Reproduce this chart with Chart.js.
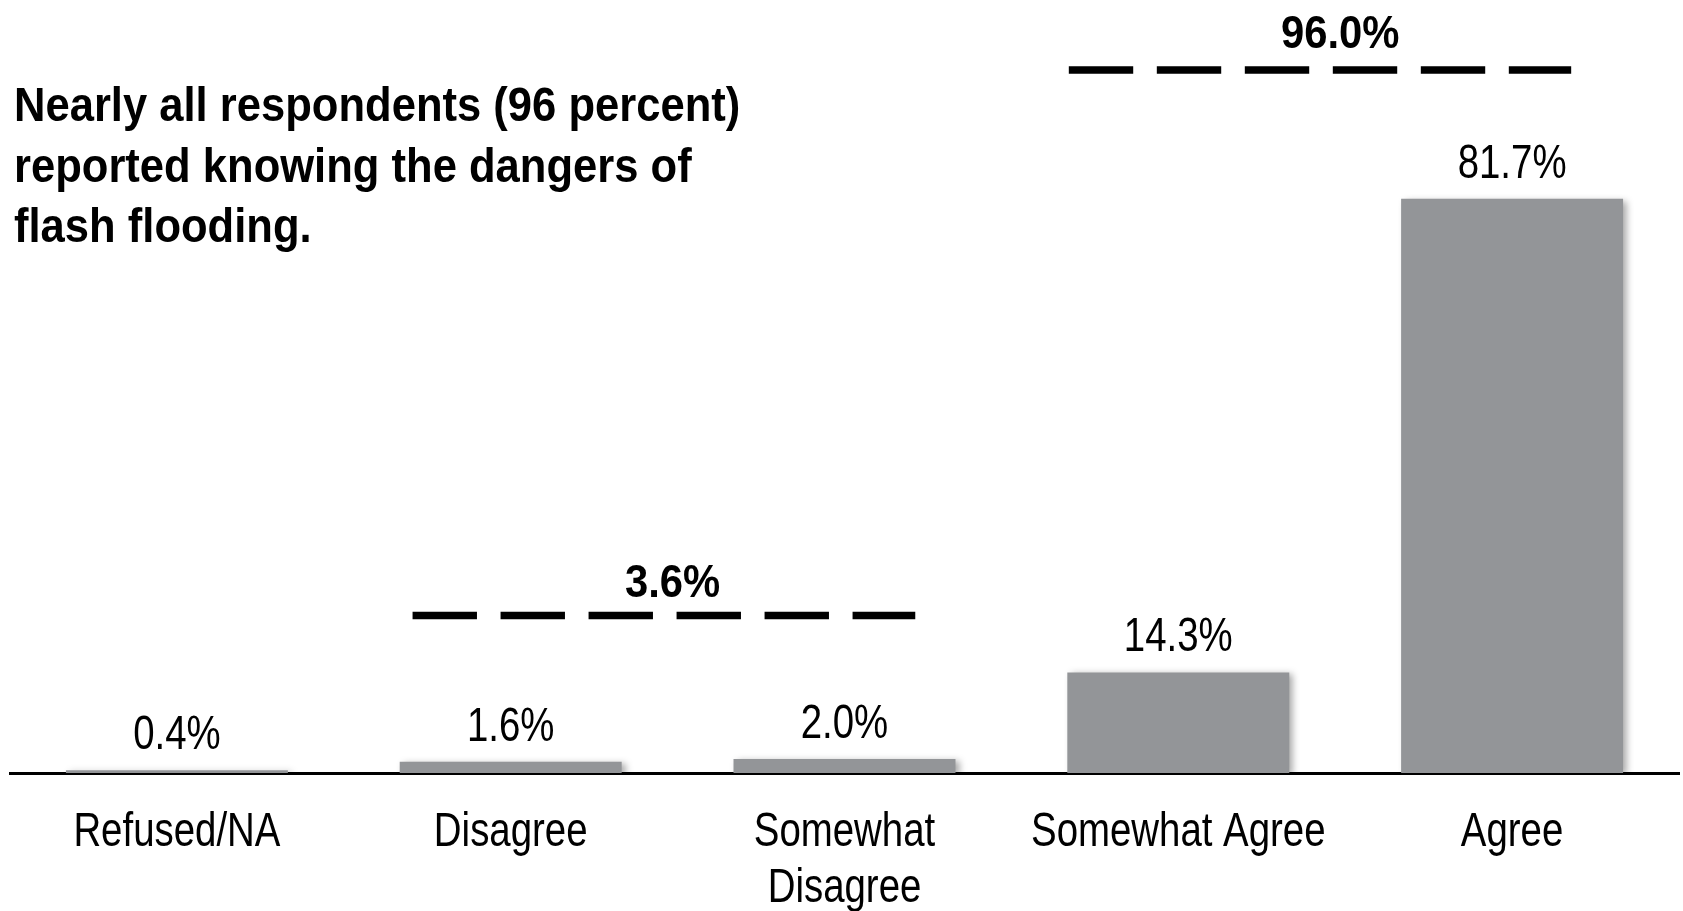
<!DOCTYPE html>
<html>
<head>
<meta charset="utf-8">
<script src="https://cdn.jsdelivr.net/npm/chart.js@4.4.1/dist/chart.umd.min.js"></script>
<style>
  html, body { margin: 0; padding: 0; background: #ffffff; }
  #wrap { position: relative; width: 1683px; height: 911px; }
</style>
</head>
<body>
<div id="wrap"><canvas id="c" width="1683" height="911"></canvas></div>
<script>
// ---- data ----
const categories = ['Refused/NA', 'Disagree', ['Somewhat', 'Disagree'], 'Somewhat Agree', 'Agree'];
const values = [0.4, 1.6, 2.0, 14.3, 81.7];
const groupLabels = ['3.6%', '96.0%'];
const groupTotals = [3.6, 96.0];
const titleLines = ['Nearly all respondents (96 percent)', 'reported knowing the dangers of', 'flash flooding.'];

const FONT = "'Liberation Sans', Arial, sans-serif";

// bracket layout (positions in category / value units)
const groupSpans = [
  { from: 1, to: 2, startOff: -0.294, endOff: 0.212, level: 22.4, gap: 19 },
  { from: 3, to: 4, startOff: -0.328, endOff: 0.177, level: 100, gap: 22 }
];

// condensed text helper: horizontal squeeze factor k
function drawText(ctx, text, x, y, font, k, align) {
  ctx.save();
  ctx.font = font;
  ctx.textAlign = align || 'center';
  ctx.textBaseline = 'alphabetic';
  ctx.scale(k, 1);
  ctx.fillText(text, x / k, y);
  ctx.restore();
}

const shadowPlugin = {
  id: 'barShadow',
  beforeDatasetsDraw(chart) {
    const ctx = chart.ctx;
    ctx.save();
    ctx.shadowColor = 'rgba(0,0,0,0.35)';
    ctx.shadowBlur = 7;
    ctx.shadowOffsetX = 4;
    ctx.shadowOffsetY = 2;
  },
  afterDatasetsDraw(chart) {
    chart.ctx.restore();
  }
};

const annotatePlugin = {
  id: 'annotate',
  afterDraw(chart) {
    const ctx = chart.ctx;
    const x = chart.scales.x, y = chart.scales.y;
    const catW = x.width / categories.length;
    ctx.save();
    ctx.fillStyle = '#000';
    const regFont = '48px ' + FONT;
    const K = 0.8;
    // value labels
    const meta = chart.getDatasetMeta(0);
    meta.data.forEach((bar, i) => {
      drawText(ctx, values[i].toFixed(1) + '%', bar.x, bar.y - 21, regFont, K, 'center');
    });
    // category labels
    categories.forEach((lab, i) => {
      const lines = Array.isArray(lab) ? lab : [lab];
      const cx = x.getPixelForValue(i);
      lines.forEach((ln, j) => {
        drawText(ctx, ln, cx, x.top + 72.5 + j * 56, regFont, K, 'center');
      });
    });
    // group brackets
    groupSpans.forEach((g, i) => {
      const x1 = x.getPixelForValue(g.from) + g.startOff * catW;
      const x2 = x.getPixelForValue(g.to) + g.endOff * catW;
      const yy = y.getPixelForValue(g.level);
      ctx.beginPath();
      ctx.setLineDash([64.4, 23.6]);
      ctx.lineWidth = 7.5;
      ctx.lineCap = 'butt';
      ctx.strokeStyle = '#000';
      ctx.moveTo(x1, yy);
      ctx.lineTo(x2, yy);
      ctx.stroke();
      ctx.setLineDash([]);
      const cx = (x.getPixelForValue(g.from) + x.getPixelForValue(g.to)) / 2 - 5;
      drawText(ctx, groupLabels[i], cx, yy - g.gap, 'bold 47px ' + FONT, 0.89, 'center');
    });
    // title
    titleLines.forEach((t, i) => {
      drawText(ctx, t, 14, 121 + i * 60.6, 'bold 49px ' + FONT, 0.889, 'left');
    });
    ctx.restore();
  }
};

new Chart(document.getElementById('c'), {
  type: 'bar',
  data: {
    labels: categories,
    datasets: [{
      data: values,
      backgroundColor: '#939598',
      borderWidth: 0,
      barPercentage: 0.665,
      categoryPercentage: 1.0
    }]
  },
  options: {
    responsive: false,
    animation: false,
    devicePixelRatio: 1,
    layout: { padding: { top: 70, left: 10, right: 4, bottom: 138 } },
    plugins: { legend: { display: false }, tooltip: { enabled: false }, title: { display: false } },
    scales: {
      x: {
        offset: true,
        grid: { display: false, drawTicks: false },
        border: { display: true, color: '#000', width: 3 },
        ticks: { display: false }
      },
      y: {
        display: false,
        min: 0,
        max: 100
      }
    }
  },
  plugins: [shadowPlugin, annotatePlugin]
});
</script>
</body>
</html>
